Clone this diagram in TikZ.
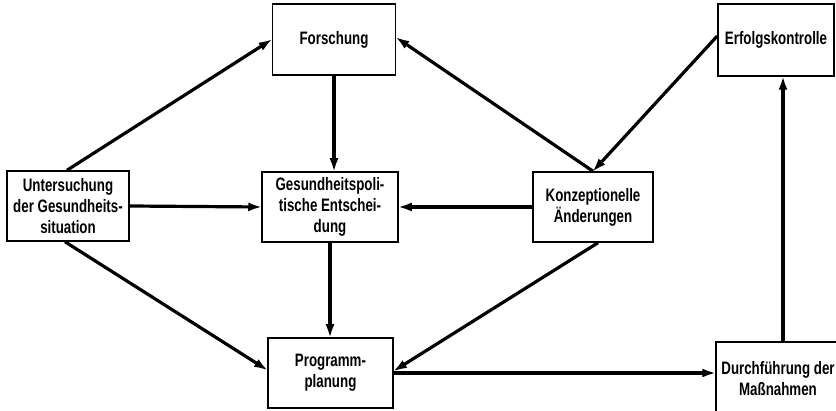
\documentclass[tikz,border=0pt]{standalone}
\usepackage{fontspec}
\newfontfamily\dfont[FakeStretch=0.74]{Liberation Sans}
\usetikzlibrary{arrows.meta}
\begin{document}
\begin{tikzpicture}[x=1pt,y=-1pt,
  box/.style={draw,line width=1.5pt,align=center,inner sep=0pt,
    font=\dfont\bfseries\fontsize{18}{21}\selectfont},
  conn/.style={line width=3.2pt,-{Latex[length=14pt,width=9pt]},shorten >=-1pt}]
\useasboundingbox (0,0) rectangle (836,411);
\clip (0,0) rectangle (836,411);
\node[box,minimum width=122pt,minimum height=70pt] (U) at (68,206) {Untersuchung\\der Gesundheits-\\situation};
\node[box,minimum width=123pt,minimum height=71pt] (F) at (334,39.5) {Forschung};
\node[box,minimum width=136pt,minimum height=70pt] (G) at (330,207) {Gesundheitspoli-\\tische Entschei-\\dung};
\node[box,minimum width=120pt,minimum height=70pt] (K) at (593,207) {Konzeptionelle\\Änderungen};
\node[box,minimum width=116pt,minimum height=72pt] (E) at (776,40) {Erfolgskontrolle};
\node[box,minimum width=125pt,minimum height=70pt] (P) at (330.5,373) {Programm-\\planung};
\node[box,minimum width=124pt,minimum height=72pt,text depth=0pt] (D) at (778,378) {Durchführung der\\Maßnahmen};
\draw[conn] ([xshift=-1pt]U.north) -- (F.west);
\draw[conn] (U.east) -- (G.west);
\draw[conn] ([xshift=-3pt]U.south) -- ([yshift=3pt]P.west);
\draw[conn] (F.south) -- (F.south |- G.north);
\draw[conn] (G.south) -- (G.south |- P.north);
\draw[conn] (K.west) -- (G.east);
\draw[conn] (K.north) -- ([yshift=2pt]F.east);
\draw[conn] ([yshift=4pt]E.west) -- (K.north);
\draw[conn] ([xshift=5pt]K.south) -- ([yshift=2pt]P.east);
\draw[conn] (P.east) -- (P.east -| D.west);
\draw[conn] ([xshift=5pt]D.north) -- ([xshift=5pt]D.north |- E.south);
\end{tikzpicture}
\end{document}
